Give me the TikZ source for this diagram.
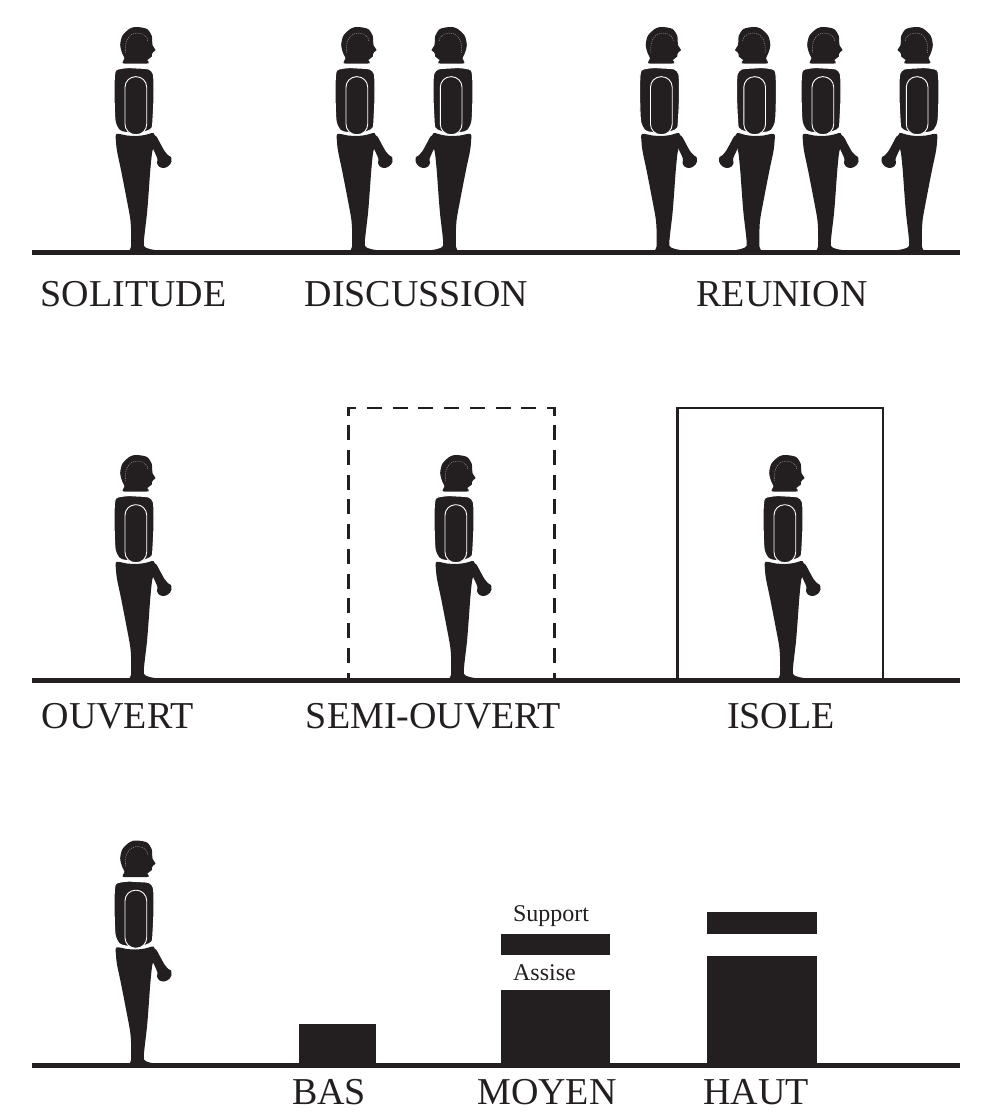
\documentclass[tikz,border=0pt]{standalone}
\usepackage{fontspec}
\setmainfont{Liberation Serif}
\definecolor{ink}{RGB}{35,31,32}
\tikzset{
  ground/.style={draw=ink, line width=5pt},
  caption/.style={font=\fontsize{38}{42}\selectfont, text=ink, anchor=base, inner sep=0pt, text depth=0pt},
  minor caption/.style={font=\fontsize{24}{28}\selectfont, text=ink, anchor=base, inner sep=0pt},
  block/.style={fill=ink},
  frame/.style={draw=ink, line width=2.5pt},
  person/.pic={
    \begin{scope}[yscale=-1]
      % legs and hips
      \fill[ink] plot[smooth cycle, tension=0.5] coordinates {
        (-18.5,118) (-8,116.5) (1,116) (10,117) (18.5,119) (20,113)
        (18.5,105) (17,98.7) (15.3,82) (13.6,58.7) (12,38.7) (9.3,15.3)
        (9,6) (14,3.2) (22,1.5) (28.3,-1) (10,-1.5) (-5.7,-1.5)
        (-4,5.3) (-3.8,15) (-4.6,32) (-8.8,55.3) (-14,82) (-17.8,100) (-19,110)};
      % forearm and hand
      \fill[ink] plot[smooth cycle, tension=0.5] coordinates {
        (15.5,117) (21,116) (24.5,110) (29.5,101) (33.5,96.5) (36,95) (36.5,90.5)
        (35,87.5) (32,85) (28,84) (24,85.5) (22,89) (22.5,93) (20,99) (17,106)};
      % torso
      \filldraw[fill=ink, draw=white, line width=1.1pt] plot[smooth cycle, tension=0.45] coordinates {
        (-19,182) (-8,184.3) (2,184) (13.8,183) (18.3,178) (19,165)
        (18.8,148.7) (18,133) (17,124) (11,120.5) (1,118.5) (-9,119.5)
        (-15.5,121.5) (-19.8,130) (-20.8,148.7) (-20.8,172)};
      % upper arm
      \filldraw[fill=ink, draw=white, line width=0.9pt, rounded corners=10.5pt]
        (-10,117.3) rectangle (11.7,175.3);
      % head
      \fill[ink] plot[smooth cycle, tension=0.5] coordinates {
        (-12,188.7) (-10.5,193.7) (-12.8,198.7) (-14.8,207) (-12.5,216.5) (-5,223.5)
        (1.7,225) (12,223) (16.8,216) (17.2,210) (17.6,206.5) (20.5,202)
        (18.2,200) (17,198) (16.8,195.5) (14.3,193.5) (12.3,192) (13.6,188.7) (1,188.5)};
      % skull contour
      \draw[white!60!ink, line width=0.4pt, dash pattern=on 1.2pt off 1pt]
        (-9.5,199) .. controls (-11,211) and (-6,218.5) .. (2,219)
        .. controls (9,219) and (13,215) .. (13,210);
    \end{scope}
  }
}
\begin{document}
\begin{tikzpicture}[x=1pt, y=-1pt]
  \useasboundingbox (0,0) rectangle (996,1113);

  % ---------- first row: group size ----------
  \draw[ground] (32,252) -- (960,252);
  \pic (solo) at (135,252) {person};
  \pic (talkA) at (356,252) {person};
  \pic[xscale=-1] (talkB) at (452,252) {person};
  \pic (meetA) at (660.5,252) {person};
  \pic[xscale=-1] (meetB) at (755.5,252) {person};
  \pic (meetC) at (822,252) {person};
  \pic[xscale=-1] (meetD) at (918,252) {person};

  \node[caption] (solitude) at (133.5,306) {SOLITUDE};
  \node[caption] (discussion) at (416.5,306) {DISCUSSION};
  \node[caption] (reunion) at (782,306) {REUNION};

  % ---------- second row: enclosure ----------
  \draw[ground] (32,680) -- (960,680);
  \pic (open) at (135,680) {person};
  \pic (semi) at (455,680) {person};
  \pic (closed) at (784,680) {person};

  % dashed enclosure
  \draw[frame, dash pattern=on 15pt off 9.727pt, dash phase=7.5pt] (348.5,680) -- (348.5,408);
  \draw[frame, dash pattern=on 15pt off 10.75pt, dash phase=6.25pt] (347.25,408) -- (555.75,408);
  \draw[frame, dash pattern=on 15pt off 9.727pt, dash phase=7.5pt] (554.5,680) -- (554.5,408);
  % solid enclosure
  \draw[frame] (677.5,680) -- (677.5,408) -- (883.2,408) -- (883.2,680);

  \node[caption] (ouvert) at (117.5,728) {OUVERT};
  \node[caption] (semiouvert) at (433.5,728) {SEMI-OUVERT};
  \node[caption] (isole) at (781,728) {ISOLE};

  % ---------- third row: furniture height ----------
  \draw[ground] (32,1065.5) -- (960,1065.5);
  \pic (stand) at (135,1065.5) {person};

  \fill[block] (299,1024) rectangle (375.5,1065.5);
  \fill[block] (500.5,934) rectangle (609.5,955);
  \fill[block] (500.5,990) rectangle (609.5,1065.5);
  \fill[block] (706.5,912) rectangle (817,934);
  \fill[block] (706.5,955.5) rectangle (817,1065.5);

  \node[minor caption] (support) at (551,921.5) {Support};
  \node[minor caption] (assise) at (544.5,980.5) {Assise};

  \node[caption] (bas) at (329,1104) {BAS};
  \node[caption] (moyen) at (547,1104) {MOYEN};
  \node[caption] (haut) at (756,1104) {HAUT};
\end{tikzpicture}
\end{document}
